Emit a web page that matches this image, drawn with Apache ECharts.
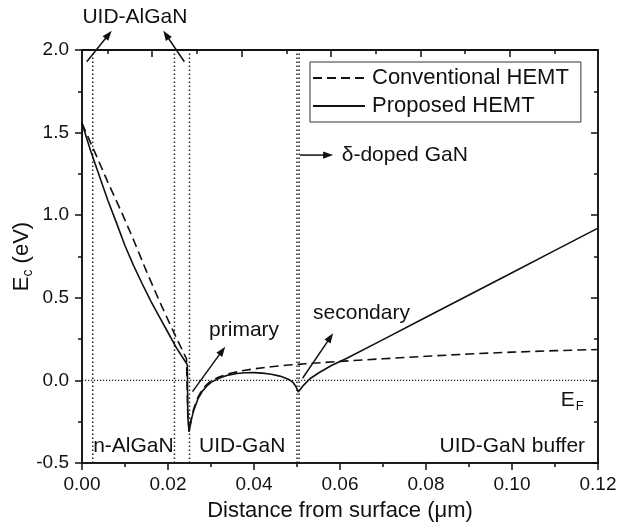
<!DOCTYPE html>
<html>
<head>
<meta charset="utf-8">
<script src="https://cdn.jsdelivr.net/npm/echarts@6/dist/echarts.min.js"></script>
<style>
  html, body { margin: 0; padding: 0; background: #fff; }
  #chart { width: 619px; height: 530px; }
</style>
</head>
<body>
<div id="chart"></div>
<script>
// Conduction band edge Ec (eV) versus depth from the surface (µm)
const conventionalX = [0, 0.003, 0.006, 0.009, 0.012, 0.015, 0.018, 0.021, 0.0243, 0.0246, 0.0249,
  0.0255, 0.026, 0.027, 0.028, 0.029, 0.030, 0.032, 0.034, 0.037, 0.040, 0.044, 0.048, 0.052,
  0.056, 0.060, 0.070, 0.080, 0.090, 0.100, 0.110, 0.120];
const conventionalEc = [1.556, 1.38, 1.2, 1.03, 0.85, 0.66, 0.48, 0.31, 0.13, -0.2, -0.31,
  -0.22, -0.17, -0.1, -0.055, -0.025, -0.003, 0.022, 0.04, 0.057, 0.07, 0.083, 0.093, 0.101,
  0.108, 0.115, 0.131, 0.146, 0.16, 0.171, 0.18, 0.187];

const proposedX = [0, 0.002, 0.004, 0.006, 0.008, 0.010, 0.012, 0.014, 0.016, 0.018, 0.020, 0.022,
  0.0245, 0.0246, 0.0249, 0.0255, 0.026, 0.027, 0.028, 0.029, 0.030, 0.032, 0.034, 0.036, 0.038,
  0.040, 0.042, 0.044, 0.046, 0.048, 0.049, 0.0497, 0.0503, 0.0515, 0.053, 0.055, 0.058, 0.0616,
  0.070, 0.080, 0.090, 0.100, 0.110, 0.120];
const proposedEc = [1.556, 1.39, 1.24, 1.09, 0.955, 0.815, 0.695, 0.585, 0.48, 0.385, 0.29, 0.195,
  0.095, -0.22, -0.31, -0.23, -0.18, -0.11, -0.065, -0.035, -0.012, 0.015, 0.032, 0.042, 0.046,
  0.047, 0.044, 0.037, 0.026, 0.007, -0.01, -0.035, -0.07, -0.03, 0.01, 0.045, 0.09, 0.134,
  0.247, 0.382, 0.517, 0.652, 0.787, 0.922];

// Layer interfaces (µm) and the Fermi level (eV)
const layerBounds = [0.0025, 0.0215, 0.025, 0.050, 0.0505];
const fermiLevel = 0;

// Ticks of the upper frame axis
const topMajorTicks = [0.0163, 0.0371, 0.0579, 0.0787, 0.0995];
const topMinorTicks = [0.0059, 0.0267, 0.0475, 0.0683, 0.0891, 0.1099];

const X_MIN = 0, X_MAX = 0.12, Y_MIN = -0.5, Y_MAX = 2.0;
const FONT = '"Liberation Sans", Arial, sans-serif';
const INK = '#111';

const W = 619, H = 530;
const GRID = { left: 82, right: 21, top: 50, bottom: 67 };
const plotW = W - GRID.left - GRID.right;
const plotH = H - GRID.top - GRID.bottom;

const px = (x, y) => [
  GRID.left + (x - X_MIN) / (X_MAX - X_MIN) * plotW,
  GRID.top + (Y_MAX - y) / (Y_MAX - Y_MIN) * plotH
];

const toPairs = (xs, ys) => xs.map((x, i) => [x, ys[i]]);
const frameLine = () => ({ show: true, onZero: false, lineStyle: { color: INK, width: 1.5 } });

function arrow(from, to) {
  const a = px(from[0], from[1]);
  const b = px(to[0], to[1]);
  const dx = b[0] - a[0], dy = b[1] - a[1];
  const len = Math.hypot(dx, dy);
  const ux = dx / len, uy = dy / len;
  const headLen = 10, headHalf = 3.6;
  const base = [b[0] - ux * headLen, b[1] - uy * headLen];
  return [
    { type: 'line', silent: true, z: 20,
      shape: { x1: a[0], y1: a[1], x2: base[0] + ux * 2, y2: base[1] + uy * 2 },
      style: { stroke: INK, lineWidth: 1.5 } },
    { type: 'polygon', silent: true, z: 20,
      shape: { points: [b, [base[0] - uy * headHalf, base[1] + ux * headHalf], [base[0] + uy * headHalf, base[1] - ux * headHalf]] },
      style: { fill: INK } }
  ];
}

function label(text, x, y, align) {
  const p = px(x, y);
  return { type: 'text', silent: true, z: 20, x: p[0], y: p[1],
    style: { text, font: '21px ' + FONT, fill: INK, align: align || 'left', verticalAlign: 'middle' } };
}

// Dotted guides drawn as plain line shapes
function guide(x1, y1, x2, y2, w, dash) {
  const a = px(x1, y1), b = px(x2, y2);
  return { type: 'line', silent: true, z: 3,
    shape: { x1: a[0], y1: a[1], x2: b[0], y2: b[1] },
    style: { stroke: '#222', lineWidth: w, lineDash: dash } };
}

const efPos = px(0.1167, -0.12);
const topLeft = px(X_MIN, Y_MAX);
const bottomRight = px(X_MAX, Y_MIN);

const option = {
  animation: false,
  backgroundColor: '#fff',
  grid: {
    left: GRID.left, right: GRID.right, top: GRID.top, bottom: GRID.bottom,
    outerBoundsMode: 'none'
  },
  legend: {
    data: ['Conventional HEMT', 'Proposed HEMT'],
    orient: 'vertical',
    left: 310, top: 62,
    padding: [5, 12, 5, 2],
    itemGap: 6,
    itemWidth: 52,
    itemHeight: 14,
    borderColor: '#333',
    borderWidth: 1,
    borderRadius: 0,
    itemStyle: { opacity: 0 },
    textStyle: { fontFamily: FONT, fontSize: 22, color: INK, padding: [0, 0, 0, 2] }
  },
  xAxis: [
    {
      type: 'value', min: X_MIN, max: X_MAX, interval: 0.02,
      name: 'Distance from surface (\u03bcm)',
      nameLocation: 'middle', nameGap: 37,
      nameTextStyle: { fontFamily: FONT, fontSize: 22, color: INK },
      axisLine: frameLine(),
      axisTick: { show: true, inside: false, length: 7, lineStyle: { color: INK, width: 1.5 } },
      minorTick: { show: true, splitNumber: 2, length: 4, lineStyle: { color: INK, width: 1.5 } },
      axisLabel: { fontFamily: FONT, fontSize: 19, color: INK, margin: 12, formatter: v => v.toFixed(2) },
      splitLine: { show: false }
    },
    {
      type: 'value', min: X_MIN, max: X_MAX, position: 'top',
      axisLine: frameLine(),
      axisTick: { show: true, inside: true, length: 7, customValues: topMajorTicks, lineStyle: { color: INK, width: 1.5 } },
      axisLabel: { show: false },
      splitLine: { show: false }
    },
    {
      type: 'value', min: X_MIN, max: X_MAX, position: 'top',
      axisLine: frameLine(),
      axisTick: { show: true, inside: true, length: 4, customValues: topMinorTicks, lineStyle: { color: INK, width: 1.5 } },
      axisLabel: { show: false },
      splitLine: { show: false }
    }
  ],
  yAxis: [
    {
      type: 'value', min: Y_MIN, max: Y_MAX, interval: 0.5,
      name: '{e|E}{s|c}{e| (eV)}',
      nameLocation: 'middle', nameGap: 47, nameMoveOverlap: false,
      nameTextStyle: {
        fontFamily: FONT, color: INK,
        rich: {
          e: { fontFamily: FONT, fontSize: 22, color: INK },
          s: { fontFamily: FONT, fontSize: 14, color: INK, padding: [12, 0, 0, 0] }
        }
      },
      axisLine: frameLine(),
      axisTick: { show: true, inside: false, length: 7, lineStyle: { color: INK, width: 1.5 } },
      minorTick: { show: true, splitNumber: 2, length: 4, lineStyle: { color: INK, width: 1.5 } },
      axisLabel: { fontFamily: FONT, fontSize: 19, color: INK, margin: 13, formatter: v => v.toFixed(1) },
      splitLine: { show: false }
    },
    {
      type: 'value', min: Y_MIN, max: Y_MAX, interval: 0.5, position: 'right',
      axisLine: frameLine(),
      axisTick: { show: true, inside: true, length: 7, lineStyle: { color: INK, width: 1.5 } },
      minorTick: { show: true, splitNumber: 2, length: 4, lineStyle: { color: INK, width: 1.5 } },
      axisLabel: { show: false },
      splitLine: { show: false }
    }
  ],
  series: [
    {
      name: 'Conventional HEMT',
      type: 'line',
      data: toPairs(conventionalX, conventionalEc),
      symbol: 'none',
      color: INK,
      lineStyle: { color: INK, width: 1.6, type: [9, 5] },
      z: 5
    },
    {
      name: 'Proposed HEMT',
      type: 'line',
      data: toPairs(proposedX, proposedEc),
      symbol: 'none',
      color: INK,
      lineStyle: { color: INK, width: 1.6, type: 'solid' },
      z: 6
    }
  ],
  graphic: [
    { type: 'rect', silent: true, z: 100,
      shape: { x: topLeft[0], y: topLeft[1], width: bottomRight[0] - topLeft[0], height: bottomRight[1] - topLeft[1] },
      style: { fill: null, stroke: INK, lineWidth: 1.6 } },
    ...layerBounds.map(x => guide(x, Y_MIN, x, Y_MAX, 1.5, [1.5, 2.5])),
    guide(X_MIN, fermiLevel, X_MAX, fermiLevel, 1.2, [1.2, 1.8]),
    ...arrow([0.0011, 1.929], [0.0069, 2.117]),
    ...arrow([0.0238, 1.929], [0.0189, 2.117]),
    ...arrow([0.0507, 1.364], [0.0584, 1.364]),
    ...arrow([0.0257, -0.068], [0.0333, 0.204]),
    ...arrow([0.0513, 0.013], [0.0584, 0.285]),
    label('UID-AlGaN', 0.0123, 2.197, 'center'),
    label('\u03b4-doped GaN', 0.0604, 1.364, 'left'),
    label('primary', 0.0377, 0.305, 'center'),
    label('secondary', 0.0650, 0.408, 'center'),
    label('n-AlGaN', 0.0026, -0.397, 'left'),
    label('UID-GaN', 0.0272, -0.397, 'left'),
    label('UID-GaN buffer', 0.1170, -0.397, 'right'),
    {
      type: 'text', silent: true, z: 20, x: efPos[0], y: efPos[1],
      style: {
        text: '{e|E}{s|F}',
        align: 'right', verticalAlign: 'middle',
        rich: {
          e: { fontFamily: FONT, fontSize: 21, fill: INK },
          s: { fontFamily: FONT, fontSize: 13, fill: INK, padding: [12, 0, 0, 1] }
        }
      }
    }
  ]
};

const chart = echarts.init(document.getElementById('chart'));
chart.setOption(option);
</script>
</body>
</html>
